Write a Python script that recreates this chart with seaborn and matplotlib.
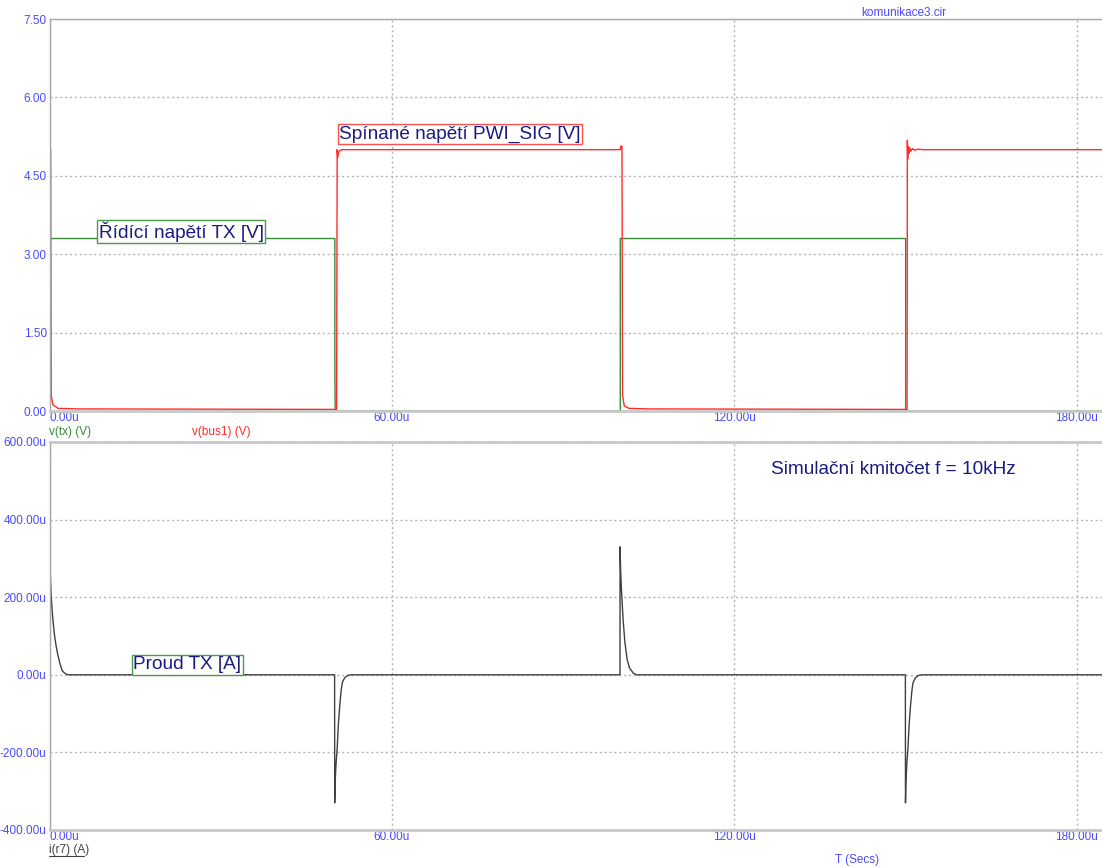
import matplotlib
matplotlib.use("Agg")
import matplotlib.pyplot as plt
from matplotlib.lines import Line2D
from matplotlib.ticker import FixedLocator
import seaborn as sns
import pandas as pd

# ---- simulation traces (time in microseconds) ----
# control voltage v(tx) [V]
tx_t = [0.0, 0.02, 0.02, 50.0, 50.0, 50.05, 100.0, 100.0, 150.0, 150.0, 184.4]
tx_v = [0.0, 0.0, 3.3, 3.3, 0.7, 0.0, 0.0, 3.3, 3.3, 0.0, 0.0]

# switched bus voltage v(bus1) [V]
bus_t = [0.0, 0.2, 0.3, 0.6, 1.5, 5.0, 50.3, 50.4, 50.5, 50.7, 51.2, 100.0, 100.1, 100.3,
         100.4, 100.7, 101.5, 105.0, 150.25, 150.3, 150.35, 150.45, 150.55, 150.7,
         150.9, 151.2, 151.6, 152.2, 153.0, 184.4]
bus_v = [5.05, 5.0, 0.3, 0.12, 0.05, 0.04, 0.03, 5.0, 4.85, 4.97, 5.0, 5.0, 5.07, 5.06,
         0.3, 0.1, 0.05, 0.04, 0.03, 5.18, 4.82, 5.06, 4.93, 5.04,
         4.97, 5.02, 4.99, 5.01, 5.0, 5.0]

# current i(r7) [uA]
cur_t = [0.0, 0.1, 0.15, 0.3, 0.55, 0.85, 1.15, 1.45, 1.85, 2.25, 2.75, 3.25,
         49.95, 49.97, 50.05, 50.2, 50.4, 50.6, 50.85, 51.1, 51.3, 51.7, 52.2, 52.8,
         99.95, 99.97, 100.05, 100.2, 100.5, 100.8, 101.2, 101.6, 102.3, 102.8,
         149.95, 149.97, 150.05, 150.2, 150.4, 150.6, 150.85, 151.1, 151.3, 151.7, 152.2, 152.8,
         184.4]
cur_i = [300.0, 300.0, 255.0, 200.0, 150.0, 105.0, 75.0, 52.0, 28.0, 10.0, 3.0, 0.0,
         0.0, -330.0, -275.0, -230.0, -190.0, -130.0, -80.0, -40.0, -20.0, -8.0, -2.0, 0.0,
         0.0, 330.0, 275.0, 220.0, 142.0, 85.0, 40.0, 18.0, 4.0, 0.0,
         0.0, -330.0, -275.0, -230.0, -190.0, -130.0, -80.0, -40.0, -20.0, -8.0, -2.0, 0.0,
         0.0]

x_ticks = [0, 60, 120, 180]
v_ticks = [0.0, 1.5, 3.0, 4.5, 6.0, 7.5]
i_ticks = [-400, -200, 0, 200, 400, 600]

TICK_BLUE = "#4a4aff"
NAVY = "#1a1a80"
FRAME = "#a8a8a8"
RED = "#ff2a2a"
GREEN = "#3a8a3a"

sns.set_style("white")
plt.rcParams["font.family"] = ["Liberation Sans", "DejaVu Sans"]

W, H = 1102, 868
fig = plt.figure(figsize=(W / 100, H / 100), dpi=100)


def px_axes(x0, y0, x1, y1):
    return fig.add_axes([x0 / W, 1 - y1 / H, (x1 - x0) / W, (y1 - y0) / H])


ax1 = px_axes(49.5, 19, 1102, 411)
ax2 = px_axes(49.5, 442, 1102, 830)

df_tx = pd.DataFrame({"t": tx_t, "v": tx_v})
df_bus = pd.DataFrame({"t": bus_t, "v": bus_v})
df_cur = pd.DataFrame({"t": cur_t, "i": cur_i})

sns.lineplot(data=df_tx, x="t", y="v", ax=ax1, color=GREEN, lw=1.0,
             estimator=None, sort=False)
sns.lineplot(data=df_bus, x="t", y="v", ax=ax1, color=RED, lw=1.0,
             estimator=None, sort=False)
sns.lineplot(data=df_cur, x="t", y="i", ax=ax2, color="#404040", lw=1.0,
             estimator=None, sort=False)

ax1.set_ylim(0, 7.5)
ax2.set_ylim(-400, 600)

for ax, yt in ((ax1, v_ticks), (ax2, i_ticks)):
    ax.set_xlim(0, 184.4)
    ax.xaxis.set_major_locator(FixedLocator(x_ticks))
    ax.yaxis.set_major_locator(FixedLocator(yt))
    ax.set_xlabel("")
    ax.set_ylabel("")
    ax.grid(True, color="#b4b4b4", lw=1.0, ls=(0, (1.5, 2.0)))
    ax.set_axisbelow(True)
    ax.spines["right"].set_visible(False)
    for s in ("left", "top"):
        ax.spines[s].set_color(FRAME)
        ax.spines[s].set_linewidth(1.0)
    ax.spines["bottom"].set_color("#c8c8c8")
    ax.spines["bottom"].set_linewidth(2.0)
    ax.tick_params(axis="y", length=0, pad=2,
                   labelsize=8.5, labelcolor=TICK_BLUE)
    ax.tick_params(axis="x", length=0, pad=1, labelsize=8.5, labelcolor=TICK_BLUE)

ax1.set_yticklabels([f"{v:.2f}" for v in v_ticks])
ax2.set_yticklabels([f"{v:.2f}u" for v in i_ticks])
ax2.spines["top"].set_color("#c8c8c8")
ax2.spines["top"].set_linewidth(2.0)
for ax in (ax1, ax2):
    ax.set_xticklabels([f"{v:.2f}u" for v in x_ticks])
    ax.get_xticklabels()[0].set_horizontalalignment("left")

# trace names under the voltage panel
fig.text(49 / W, 1 - 432 / H, "v(tx) (V)", color=GREEN, fontsize=8.5,
         ha="left", va="center")
fig.text(192 / W, 1 - 432 / H, "v(bus1) (V)", color=RED, fontsize=8.5,
         ha="left", va="center")
fig.text(49 / W, 1 - 849.5 / H, "i(r7) (A)", color="#404040", fontsize=8.5,
         ha="left", va="center")
fig.add_artist(Line2D([49 / W, 84 / W], [1 - 856 / H, 1 - 856 / H],
                      color="#404040", lw=0.8))
fig.text(857 / W, 1 - 860 / H, "T (Secs)", color=TICK_BLUE, fontsize=8.5,
         ha="center", va="center")
fig.text(904 / W, 1 - 13 / H, "komunikace3.cir", color=TICK_BLUE, fontsize=8.5,
         ha="center", va="center")

# boxed captions
ax1.text(71.9, 5.30, "Spínané napětí PWI_SIG [V]", color=NAVY, fontsize=13.7,
         ha="center", va="center",
         bbox=dict(boxstyle="square,pad=0.08", fc="white", ec="#ff5050", lw=1))
ax1.text(23.05, 3.43, "Řídící napětí TX [V]", color=NAVY, fontsize=13.7,
         ha="center", va="center",
         bbox=dict(boxstyle="square,pad=0.08", fc="white", ec="#4a9a4a", lw=1))
ax2.text(24.13, 25.8, "Proud TX [A]", color=NAVY, fontsize=13.7,
         ha="center", va="center",
         bbox=dict(boxstyle="square,pad=0.08", fc="white", ec="#4a9a4a", lw=1))
ax2.text(147.9, 528, "Simulační kmitočet f = 10kHz", color=NAVY, fontsize=13.7,
         ha="center", va="center")

fig.savefig("out.png", dpi=100)
